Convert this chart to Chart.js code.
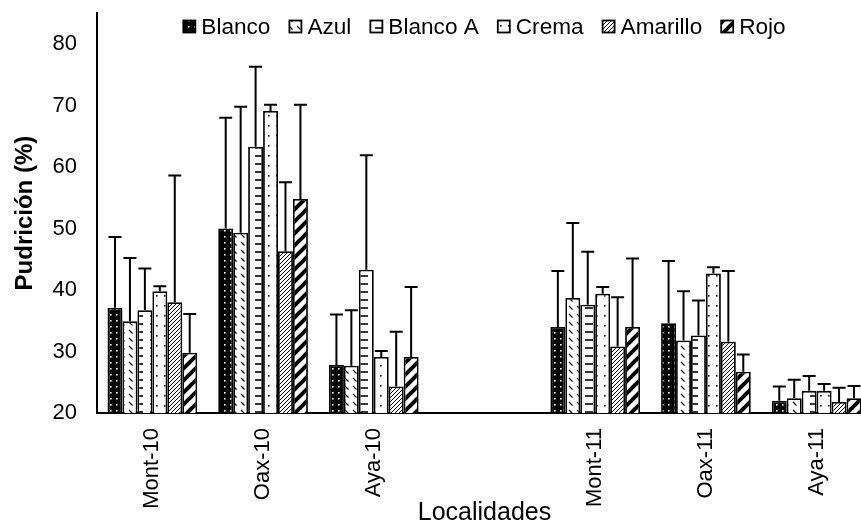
<!DOCTYPE html>
<html>
<head>
<meta charset="utf-8">
<script src="https://cdn.jsdelivr.net/npm/chart.js@4/dist/chart.umd.min.js"></script>
<style>
  html, body { margin: 0; padding: 0; overflow: hidden; background: #fff; }
  #wrap { position: absolute; left: 0; top: 0; width: 880px; height: 526px; }
</style>
</head>
<body>
<div id="wrap"><canvas id="chart" width="880" height="526"></canvas></div>
<script>
// Categories (empty slot between the two years)
var categories = ['Mont-10', 'Oax-10', 'Aya-10', '', 'Mont-11', 'Oax-11', 'Aya-11'];

// Mean rot (%) per colour
var blanco   = [37.1, 50.0, 27.8, null, 34.0, 34.6, 22.0];
var azul     = [34.9, 49.3, 27.7, null, 38.7, 31.8, 22.4];
var blancoA  = [36.7, 63.3, 43.3, null, 37.6, 32.6, 23.6];
var crema    = [39.8, 69.1, 29.1, null, 39.4, 42.7, 23.6];
var amarillo = [38.0, 46.3, 24.3, null, 30.8, 31.6, 21.8];
var rojo     = [29.8, 54.8, 29.1, null, 34.0, 26.7, 22.4];

// Error bars (upper only)
var blancoErr   = [11.5, 18.0, 8.2, null, 9.1, 10.1, 2.3];
var azulErr     = [10.3, 20.5, 9.0, null, 12.2, 8.0, 3.0];
var blancoAErr  = [6.8, 13.0, 18.6, null, 8.6, 5.7, 2.4];
var cremaErr    = [0.8, 1.0, 1.0, null, 1.1, 1.0, 1.1];
var amarilloErr = [20.6, 11.2, 8.9, null, 8.0, 11.5, 2.3];
var rojoErr     = [6.3, 15.3, 11.4, null, 11.1, 2.8, 2.0];

var yMin = 20, yMax = 85, yStep = 10, yLastTick = 80;

var font = 'Liberation Sans, Arial, sans-serif';

// small canvas patterns for the bar fills
function makePattern(w, h, bg, draw) {
  var c = document.createElement('canvas');
  c.width = w; c.height = h;
  var g = c.getContext('2d');
  g.fillStyle = bg;
  g.fillRect(0, 0, w, h);
  g.strokeStyle = '#000';
  g.fillStyle = '#000';
  draw(g);
  return g.createPattern(c, 'repeat');
}

var patBlanco = makePattern(6, 6, '#000', function (g) {
  g.fillStyle = '#fff';
  g.fillRect(2, 2, 1.6, 1.6);
});
var patAzul = makePattern(8, 8, '#fff', function (g) {
  g.lineWidth = 1.3;
  g.beginPath(); g.moveTo(1, 2); g.lineTo(4.5, 5.5); g.stroke();
});
var patBlancoA = makePattern(15, 8, '#fff', function (g) {
  g.lineWidth = 1.6;
  g.beginPath(); g.moveTo(0, 4); g.lineTo(8, 4); g.stroke();
});
var patCrema = makePattern(8, 10, '#fff', function (g) {
  g.fillRect(4, 5, 1.6, 1.6);
});
var patAmarillo = makePattern(4, 4, '#fff', function (g) {
  g.lineWidth = 1;
  g.beginPath();
  g.moveTo(0, 4); g.lineTo(4, 0);
  g.moveTo(-1, 1); g.lineTo(1, -1);
  g.moveTo(3, 5); g.lineTo(5, 3);
  g.stroke();
});
var patRojo = makePattern(12, 12, '#fff', function (g) {
  g.lineWidth = 4;
  g.beginPath();
  g.moveTo(0, 12); g.lineTo(12, 0);
  g.moveTo(-3, 3); g.lineTo(3, -3);
  g.moveTo(9, 15); g.lineTo(15, 9);
  g.stroke();
});

function series(label, values, errs, pat) {
  return {
    label: label,
    data: values,
    errors: errs,
    backgroundColor: pat,
    borderColor: '#000',
    borderWidth: 1.8
  };
}

// draws the upper error whiskers
var errorBars = {
  id: 'errorBars',
  afterDatasetsDraw: function (chart) {
    var ctx = chart.ctx;
    var y = chart.scales.y;
    ctx.save();
    ctx.strokeStyle = '#000';
    ctx.lineWidth = 2;
    chart.data.datasets.forEach(function (ds, i) {
      chart.getDatasetMeta(i).data.forEach(function (bar, j) {
        if (ds.data[j] == null || ds.errors[j] == null) return;
        var top = y.getPixelForValue(ds.data[j] + ds.errors[j]);
        ctx.beginPath();
        ctx.moveTo(bar.x, bar.y);
        ctx.lineTo(bar.x, top);
        ctx.moveTo(bar.x - 6.5, top);
        ctx.lineTo(bar.x + 6.5, top);
        ctx.stroke();
      });
    });
    ctx.restore();
  }
};

// one-row legend drawn inside the top of the plot
var topLegend = {
  id: 'topLegend',
  afterDraw: function (chart) {
    var ctx = chart.ctx;
    var area = chart.chartArea;
    var sets = chart.data.datasets;
    var box = 12, gap = 6, space = 19, cy = 26.5;
    ctx.save();
    ctx.font = '22.6px ' + font;
    var total = 0;
    var widths = sets.map(function (ds) { return ctx.measureText(ds.label).width; });
    widths.forEach(function (w) { total += box + gap + w; });
    total += space * (sets.length - 1);
    var x = (area.left + area.right) / 2 - total / 2;
    ctx.textBaseline = 'middle';
    ctx.textAlign = 'left';
    sets.forEach(function (ds, i) {
      ctx.fillStyle = ds.backgroundColor;
      ctx.fillRect(x, cy - box / 2, box, box);
      ctx.strokeStyle = '#000';
      ctx.lineWidth = 1.8;
      ctx.strokeRect(x, cy - box / 2, box, box);
      ctx.fillStyle = '#000';
      ctx.fillText(ds.label, x + box + gap, cy + 1);
      x += box + gap + widths[i] + space;
    });
    ctx.restore();
  }
};

new Chart(document.getElementById('chart'), {
  type: 'bar',
  data: {
    labels: categories,
    datasets: [
      series('Blanco', blanco, blancoErr, patBlanco),
      series('Azul', azul, azulErr, patAzul),
      series('Blanco A', blancoA, blancoAErr, patBlancoA),
      series('Crema', crema, cremaErr, patCrema),
      series('Amarillo', amarillo, amarilloErr, patAmarillo),
      series('Rojo', rojo, rojoErr, patRojo)
    ]
  },
  options: {
    responsive: false,
    animation: false,
    layout: { padding: { top: 12, right: 8, left: 0, bottom: 0 } },
    datasets: { bar: { categoryPercentage: 0.81, barPercentage: 1.0 } },
    plugins: {
      tooltip: { enabled: false },
      legend: { display: false }
    },
    scales: {
      x: {
        grid: { display: true, drawOnChartArea: false, drawTicks: true, tickLength: 15, color: 'rgba(0,0,0,0)' },
        border: { color: '#000', width: 2 },
        ticks: {
          color: '#000',
          font: { family: font, size: 22 },
          minRotation: 90,
          maxRotation: 90,
          autoSkip: false,
          padding: 0
        },
        title: {
          display: true,
          text: 'Localidades',
          color: '#000',
          font: { family: font, size: 25, lineHeight: 1 },
          padding: 0
        },
        afterFit: function (scale) { scale.height = 113; }
      },
      y: {
        min: yMin,
        max: yMax,
        grid: { display: true, drawOnChartArea: false, drawTicks: true, tickLength: 20, color: 'rgba(0,0,0,0)' },
        border: { color: '#000', width: 2 },
        ticks: {
          stepSize: yStep,
          color: '#000',
          font: { family: font, size: 22 },
          padding: 0
        },
        afterBuildTicks: function (scale) {
          scale.ticks = scale.ticks.filter(function (t) { return t.value <= yLastTick; });
        },
        title: {
          display: true,
          text: 'Pudrición (%)',
          color: '#000',
          font: { family: font, size: 24, weight: 'bold' },
          padding: { top: 11, bottom: 0 }
        },
        afterFit: function (scale) { scale.width = 97; }
      }
    }
  },
  plugins: [errorBars, topLegend]
});
</script>
</body>
</html>
